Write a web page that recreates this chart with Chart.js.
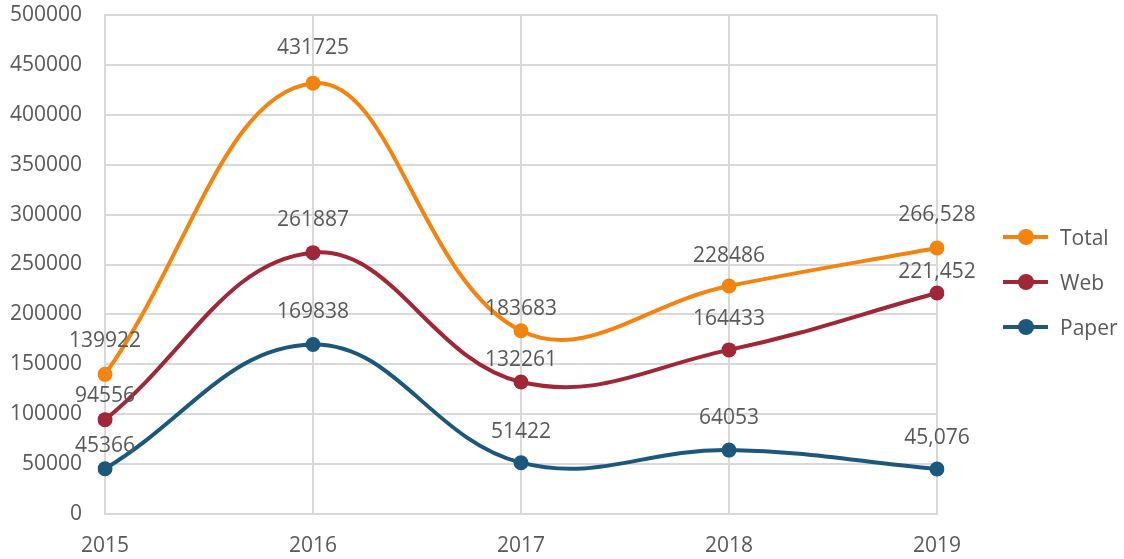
<!DOCTYPE html>
<html>
<head>
<meta charset="utf-8">
<script src="https://cdn.jsdelivr.net/npm/chart.js@4"></script>
<style>
  html, body { margin: 0; padding: 0; background: #fff; }
  #wrap { position: relative; width: 1124px; height: 559px; }
  #legenda { position: absolute; left: 1003px; top: 214px; font-family: "Open Sans", sans-serif; font-size: 21px; color: #595959; }
  .item { display: flex; align-items: center; height: 45px; }
  .linha { position: relative; width: 45px; height: 4px; margin-right: 12px; }
  .ponto { position: absolute; left: 15px; top: -6px; width: 16px; height: 16px; border-radius: 50%; }
</style>
</head>
<body>
<div id="wrap">
  <canvas id="grafico" width="1124" height="559"></canvas>
  <div id="legenda"></div>
</div>
<script>
const anos = ["2015", "2016", "2017", "2018", "2019"];
const total = [139922, 431725, 183683, 228486, 266528];
const web = [94556, 261887, 132261, 164433, 221452];
const paper = [45366, 169838, 51422, 64053, 45076];
// rótulos como aparecem no original (os de 2019 têm vírgula)
const rotTotal = ["139922", "431725", "183683", "228486", "266,528"];
const rotWeb = ["94556", "261887", "132261", "164433", "221,452"];
const rotPaper = ["45366", "169838", "51422", "64053", "45,076"];
const ticksY = [0, 50000, 100000, 150000, 200000, 250000, 300000, 350000, 400000, 450000, 500000];

const corTexto = "#595959";
const corGrade = "#d9d9d9";
const fonte = { family: "'Open Sans', sans-serif", size: 21 };

// distancia do rotulo acima do ponto (px)
const subida = [
  [33, 35, 22, 30, 33],
  [24, 33, 22, 31, 21],
  [23, 32, 31, 32, 31]
];

const rotulosPlugin = {
  id: "rotulos",
  afterDatasetsDraw(chart) {
    const ctx = chart.ctx;
    ctx.save();
    ctx.font = fonte.size + "px " + fonte.family;
    ctx.fillStyle = corTexto;
    ctx.textAlign = "center";
    ctx.textBaseline = "middle";
    chart.data.datasets.forEach((ds, i) => {
      const meta = chart.getDatasetMeta(i);
      meta.data.forEach((pt, j) => {
        ctx.fillText(ds.rotulos[j], pt.x, pt.y - subida[i][j]);
      });
    });
    ctx.restore();
  }
};

function serie(nome, dados, rotulos, cor) {
  return {
    label: nome,
    data: dados,
    rotulos: rotulos,
    borderColor: cor,
    backgroundColor: cor,
    borderWidth: 4,
    tension: 0.4,
    pointRadius: 7.5,
    pointHoverRadius: 7.5,
    pointBorderWidth: 0
  };
}

const datasets = [
  serie("Total", total, rotTotal, "#f2840f"),
  serie("Web", web, rotWeb, "#a02737"),
  serie("Paper", paper, rotPaper, "#1c587c")
];

// legenda em HTML
const leg = document.getElementById("legenda");
datasets.forEach(ds => {
  const it = document.createElement("div");
  it.className = "item";
  it.innerHTML = '<div class="linha" style="background:' + ds.borderColor + '"><div class="ponto" style="background:' + ds.borderColor + '"></div></div><span>' + ds.label + '</span>';
  leg.appendChild(it);
});

new Chart(document.getElementById("grafico"), {
  type: "line",
  data: { labels: anos, datasets: datasets },
  plugins: [rotulosPlugin],
  options: {
    responsive: false,
    animation: false,
    layout: { padding: { top: 15, right: 187, left: 0, bottom: 0 } },
    plugins: { legend: { display: false }, tooltip: { enabled: false } },
    scales: {
      x: {
        offset: false,
        grid: { color: corGrade, lineWidth: 2, drawTicks: false },
        border: { color: corGrade, width: 2 },
        ticks: { color: corTexto, font: fonte, padding: 19, maxRotation: 0 },
        afterFit(s) { s.height = 45; s.paddingLeft = 0; s.paddingRight = 0; }
      },
      y: {
        min: 0,
        max: 500000,
        afterBuildTicks(s) { s.ticks = ticksY.map(v => ({ value: v })); },
        grid: { color: corGrade, lineWidth: 2, drawTicks: false },
        border: { color: corGrade, width: 2 },
        ticks: { color: corTexto, font: fonte, padding: 23, callback: v => String(v) },
        afterFit(s) { s.width = 105; s.paddingTop = 0; s.paddingBottom = 0; }
      }
    }
  }
});
</script>
</body>
</html>
